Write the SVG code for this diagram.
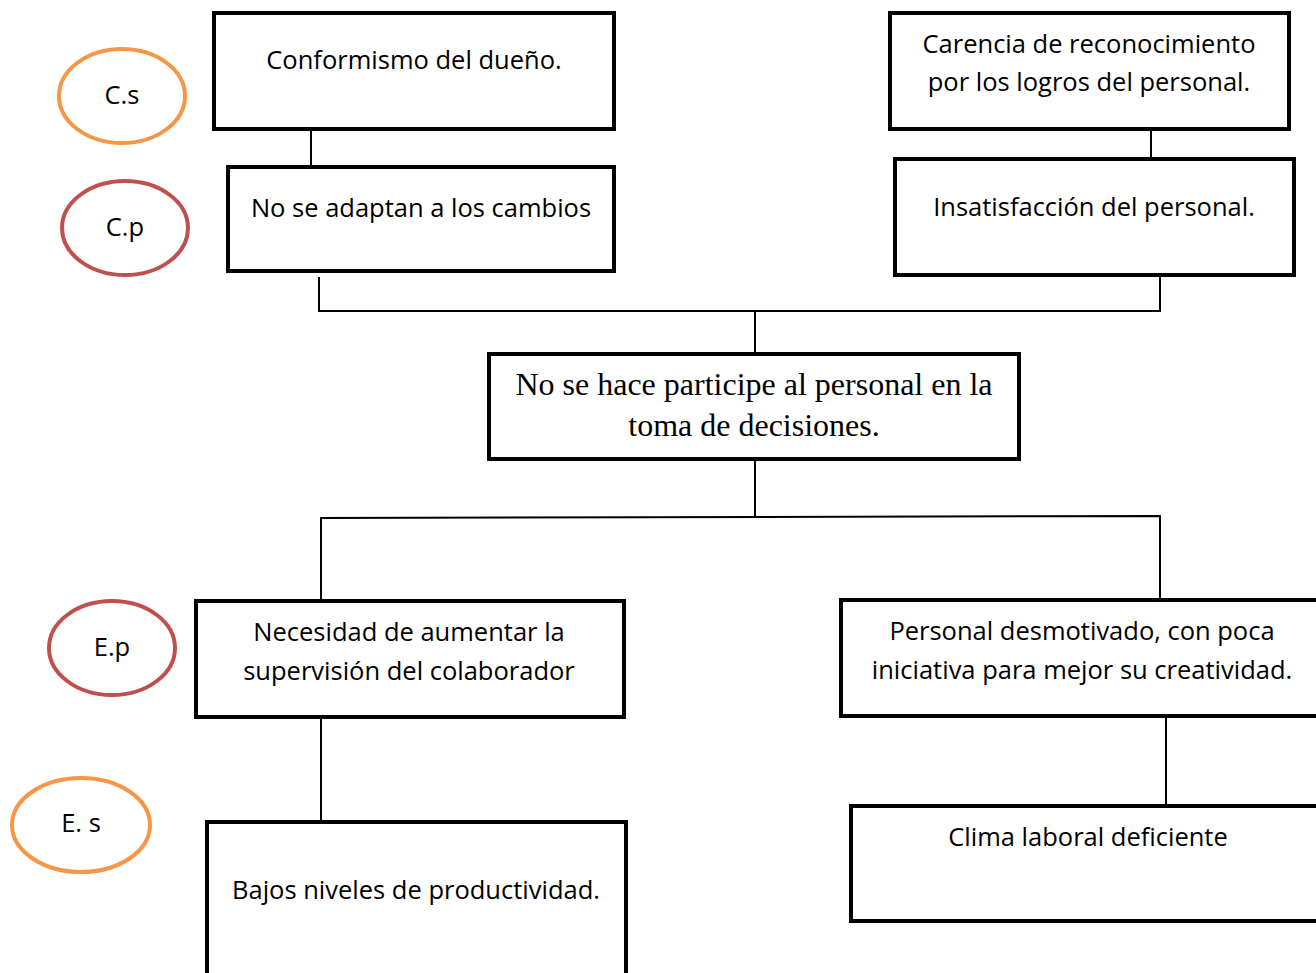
<svg xmlns="http://www.w3.org/2000/svg" width="1316" height="973" viewBox="0 0 1316 973">
<style>
.box{fill:#fff;stroke:#000;stroke-width:4}
.t{font-family:"Open Sans","Noto Sans","Liberation Sans",sans-serif;font-size:25.5px;fill:#000;text-anchor:middle}
.ts{font-family:"Liberation Serif","Times New Roman",serif;font-size:32px;fill:#000;text-anchor:middle}
.ell{fill:#fff;stroke-width:4}
.or{stroke:#F79646}
.rd{stroke:#C0504D}
.c{fill:none;stroke:#000;stroke-width:2}
</style>
<rect width="1316" height="973" fill="#fff"/>
<g id="connectors">
<line class="c" x1="311" y1="129" x2="311" y2="167"/>
<line class="c" x1="1151" y1="129" x2="1151" y2="159"/>
<polyline class="c" points="319,277 319,311 1160,311 1160,275"/>
<line class="c" x1="755" y1="311" x2="755" y2="354"/>
<line class="c" x1="755" y1="459" x2="755" y2="517"/>
<polyline class="c" points="321,601 321,518 1160,516 1160,600"/>
<line class="c" x1="321" y1="717" x2="321" y2="822"/>
<line class="c" x1="1166" y1="716" x2="1166" y2="806"/>
</g>
<g id="cs"><ellipse class="ell or" cx="122" cy="96" rx="63" ry="47"/><text class="t" x="122" y="104">C.s</text></g>
<g id="cp"><ellipse class="ell rd" cx="125" cy="228" rx="63" ry="47"/><text class="t" x="125" y="236">C.p</text></g>
<g id="ep"><ellipse class="ell rd" cx="112" cy="648" rx="63" ry="47"/><text class="t" x="112" y="656">E.p</text></g>
<g id="es"><ellipse class="ell or" cx="81" cy="825" rx="69" ry="47"/><text class="t" x="81" y="832">E. s</text></g>
<g id="n1"><rect class="box" x="214" y="13" width="400" height="116"/><text class="t" x="414" y="69">Conformismo del dueño.</text></g>
<g id="n2"><rect class="box" x="228" y="167" width="386" height="104"/><text class="t" x="421" y="217">No se adaptan a los cambios</text></g>
<g id="n3"><rect class="box" x="890" y="13" width="399" height="116"/><text class="t" x="1089" y="53">Carencia de reconocimiento</text><text class="t" x="1089" y="91">por los logros del personal.</text></g>
<g id="n4"><rect class="box" x="895" y="159" width="399" height="116"/><text class="t" x="1094" y="216">Insatisfacción del personal.</text></g>
<g id="center"><rect class="box" x="489" y="354" width="530" height="105"/><text class="ts" x="754" y="395">No se hace participe al personal en la</text><text class="ts" x="754" y="436">toma de decisiones.</text></g>
<g id="n5"><rect class="box" x="196" y="601" width="428" height="116"/><text class="t" x="409" y="641">Necesidad de aumentar la</text><text class="t" x="409" y="680">supervisión del colaborador</text></g>
<g id="n6"><rect class="box" x="841" y="600" width="490" height="116"/><text class="t" x="1082" y="640">Personal desmotivado, con poca</text><text class="t" x="1082" y="679">iniciativa para mejor su creatividad.</text></g>
<g id="n7"><rect class="box" x="207" y="822" width="419" height="170"/><text class="t" x="416" y="899">Bajos niveles de productividad.</text></g>
<g id="n8"><rect class="box" x="851" y="806" width="480" height="115"/><text class="t" x="1088" y="846">Clima laboral deficiente</text></g>
</svg>
